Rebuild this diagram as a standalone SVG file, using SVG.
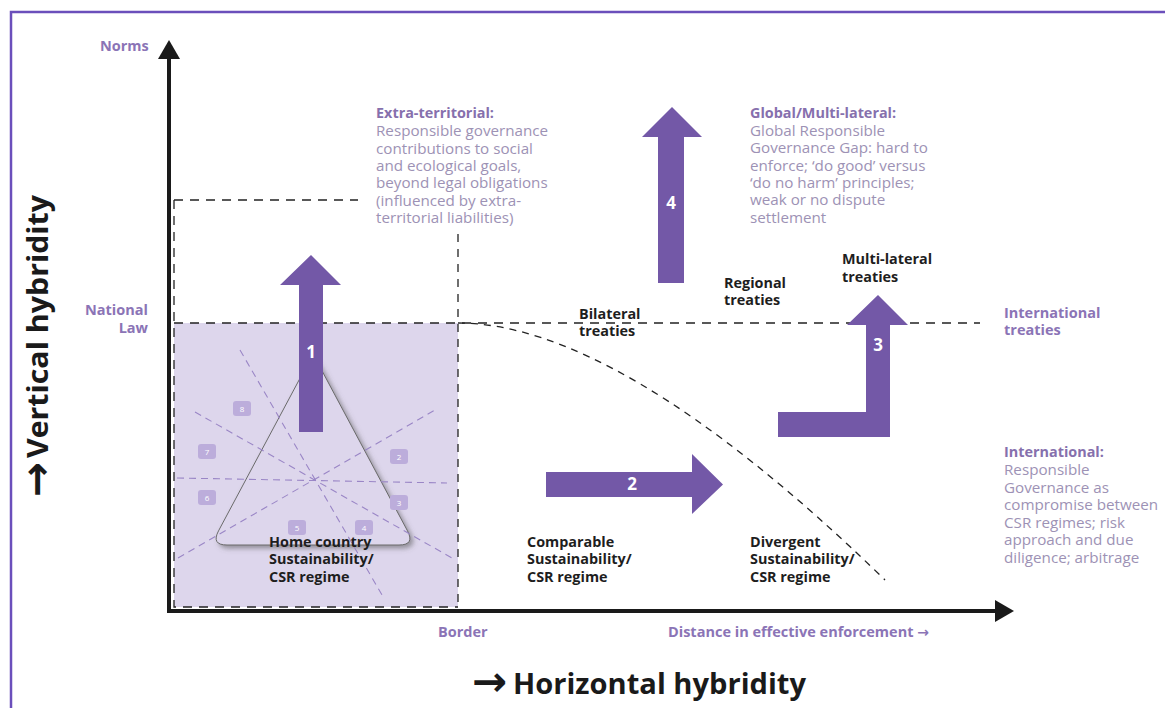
<svg xmlns="http://www.w3.org/2000/svg" width="1165" height="708" viewBox="0 0 1165 708">
<style>
text{font-family:"Open Sans","DejaVu Sans",sans-serif}
.lbl{font-weight:700;fill:#8b74b6;font-size:14.5px}
.blk{font-weight:700;fill:#1e1e1e;font-size:14.4px}
.desc{font-size:15.2px;fill:#9d92b5}
.dt{font-weight:700;fill:#8670ad;font-size:14.4px}
.num{fill:#fff;font-weight:700;font-size:17px;text-anchor:middle}
.sq{fill:#bcaddb}
.sqn{fill:#fff;font-size:8px;text-anchor:middle}
.arr{fill:#7358a7}
.dash{fill:none;stroke:#222;stroke-width:1.3;stroke-dasharray:9 7}
.pdash{fill:none;stroke:#9a86c6;stroke-width:1.1;stroke-dasharray:7 5}
.axis{stroke:#1a1a1a;stroke-width:4;fill:none}
.big{font-weight:700;fill:#1a1a1a;font-size:28px}
.sym{font-family:"DejaVu Sans",sans-serif;font-weight:700;fill:#1a1a1a;font-size:42px}
</style>
<defs>
<filter id="sh" x="-20%" y="-20%" width="140%" height="140%">
<feDropShadow dx="3" dy="3" stdDeviation="2.5" flood-color="#555" flood-opacity="0.55"/>
</filter>
</defs>
<rect width="1165" height="708" fill="#fff"/>
<rect x="11" y="12" width="1170" height="710" fill="none" stroke="#6b4fbb" stroke-width="2.5"/>

<g id="home-region">
<rect x="174" y="323" width="284" height="284" fill="#ddd6ec"/>
</g>

<g id="connectors">
<path class="dash" d="M174,200 H358"/>
<path class="dash" d="M174,200 V607 H458"/>
<path class="dash" style="stroke-dasharray:8 7" d="M458,234 V610"/>
<path class="dash" d="M174,323 H980"/>
<path class="dash" style="stroke-dasharray:7 6" d="M458,323 C560,323 700,400 885,580"/>
<path class="axis" d="M169,611 V56"/>
<polygon points="169,40 180,59 158,59" fill="#1a1a1a"/>
<path class="axis" d="M167,611 H998"/>
<polygon points="1014,611 995,600 995,622" fill="#1a1a1a"/>
</g>

<g id="triangle">
<path d="M306.4,366.3 Q313,354 319.6,366.3 L407.5,530.9 Q415,545 399,545 L227,545 Q211,545 218.5,530.9 Z" fill="#ddd6ec" stroke="#6a6a6a" stroke-width="1" filter="url(#sh)"/>
<path class="pdash" d="M177,478 L447,483"/>
<path class="pdash" d="M240,350 L382,595"/>
<path class="pdash" d="M195,412 L452,558"/>
<path class="pdash" d="M178,558 L435,410"/>
<g id="sectors">
<rect class="sq" x="233" y="401" width="18" height="15" rx="3"/><text class="sqn" x="242" y="411.5">8</text>
<rect class="sq" x="198" y="444" width="18" height="15" rx="3"/><text class="sqn" x="207" y="454.5">7</text>
<rect class="sq" x="198" y="490" width="18" height="15" rx="3"/><text class="sqn" x="207" y="500.5">6</text>
<rect class="sq" x="288" y="520" width="18" height="15" rx="3"/><text class="sqn" x="297" y="530.5">5</text>
<rect class="sq" x="355" y="520" width="18" height="15" rx="3"/><text class="sqn" x="364" y="530.5">4</text>
<rect class="sq" x="390" y="495" width="18" height="15" rx="3"/><text class="sqn" x="399" y="505.5">3</text>
<rect class="sq" x="390" y="449" width="18" height="15" rx="3"/><text class="sqn" x="399" y="459.5">2</text>
</g>
</g>

<g id="arrow1">
<polygon class="arr" points="311,255 341,285 323,285 323,432 299,432 299,285 280,285"/>
<text class="num" x="311" y="358">1</text>
</g>
<g id="arrow4">
<polygon class="arr" points="672,107 702,137 684,137 684,283 658,283 658,137 642,137"/>
<text class="num" x="671" y="209">4</text>
</g>
<g id="arrow2">
<polygon class="arr" points="723,484.5 692,454 692,472 546,472 546,497 692,497 692,514"/>
<text class="num" x="632" y="490">2</text>
</g>
<g id="arrow3">
<polygon class="arr" points="878,295 908,325 890,325 890,437 778,437 778,412 866,412 866,325 847,325"/>
<text class="num" x="878" y="351">3</text>
</g>

<g id="axis-labels">
<text class="lbl" x="100" y="51">Norms</text>
<text class="lbl" x="148" y="315" text-anchor="end">National</text>
<text class="lbl" x="148" y="333" text-anchor="end">Law</text>
<text class="lbl" x="438" y="637">Border</text>
<text class="lbl" x="668" y="637">Distance in effective enforcement <tspan class="sym" style="fill:#8b74b6;font-size:14px">→</tspan></text>
<text class="lbl" x="1004" y="318">International</text>
<text class="lbl" x="1004" y="335">treaties</text>
<g transform="translate(48,497) rotate(-90)">
<text class="sym" x="0" y="3">→</text>
<text class="big" x="39" y="0" textLength="263" lengthAdjust="spacingAndGlyphs">Vertical hybridity</text>
</g>
<text class="sym" x="472" y="696">→</text>
<text class="big" x="513" y="694" textLength="293" lengthAdjust="spacingAndGlyphs">Horizontal hybridity</text>
</g>

<g id="home">
<text class="blk" x="269" y="547">Home country</text>
<text class="blk" x="269" y="564">Sustainability/</text>
<text class="blk" x="269" y="582">CSR regime</text>
</g>
<g id="comparable">
<text class="blk" x="527" y="547">Comparable</text>
<text class="blk" x="527" y="564">Sustainability/</text>
<text class="blk" x="527" y="582">CSR regime</text>
</g>
<g id="divergent">
<text class="blk" x="750" y="547">Divergent</text>
<text class="blk" x="750" y="564">Sustainability/</text>
<text class="blk" x="750" y="582">CSR regime</text>
</g>
<g id="bilateral">
<text class="blk" x="579" y="319">Bilateral</text>
<text class="blk" x="579" y="336">treaties</text>
</g>
<g id="regional">
<text class="blk" x="724" y="288">Regional</text>
<text class="blk" x="724" y="305">treaties</text>
</g>
<g id="multilateral">
<text class="blk" x="842" y="264">Multi-lateral</text>
<text class="blk" x="842" y="282">treaties</text>
</g>

<g id="extra-territorial">
<text class="desc" x="376"><tspan class="dt" x="376" y="118">Extra-territorial:</tspan><tspan x="376" y="136">Responsible governance</tspan><tspan x="376" y="153.5">contributions to social</tspan><tspan x="376" y="171">and ecological goals,</tspan><tspan x="376" y="188">beyond legal obligations</tspan><tspan x="376" y="205.5">(influenced by extra-</tspan><tspan x="376" y="223">territorial liabilities)</tspan></text>
</g>
<g id="global">
<text class="desc" x="750"><tspan class="dt" x="750" y="118">Global/Multi-lateral:</tspan><tspan x="750" y="136">Global Responsible</tspan><tspan x="750" y="153">Governance Gap: hard to</tspan><tspan x="750" y="170.5">enforce; ‘do good’ versus</tspan><tspan x="750" y="188">‘do no harm’ principles;</tspan><tspan x="750" y="205">weak or no dispute</tspan><tspan x="750" y="222.5">settlement</tspan></text>
</g>
<g id="international">
<text class="desc" x="1004"><tspan class="dt" x="1004" y="457">International:</tspan><tspan x="1004" y="475">Responsible</tspan><tspan x="1004" y="492.5">Governance as</tspan><tspan x="1004" y="510">compromise between</tspan><tspan x="1004" y="527.5">CSR regimes; risk</tspan><tspan x="1004" y="545">approach and due</tspan><tspan x="1004" y="562.5">diligence; arbitrage</tspan></text>
</g>
</svg>
